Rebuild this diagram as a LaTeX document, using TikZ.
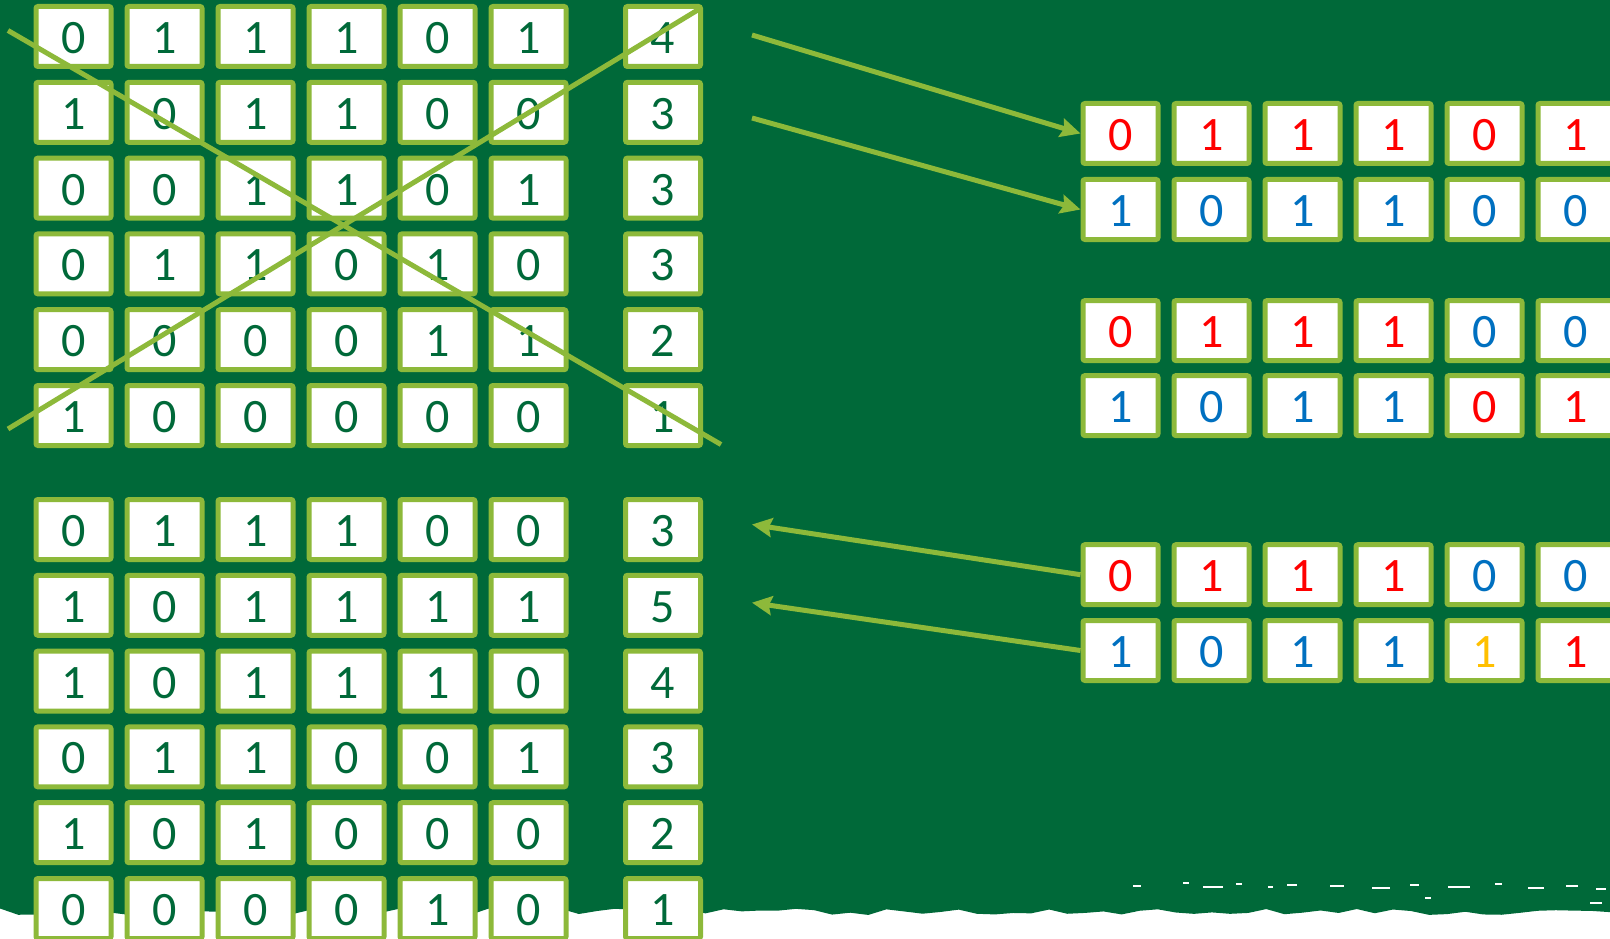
\documentclass[tikz,border=0pt]{standalone}
\usepackage{fontspec}
\setmainfont{Carlito}
\usetikzlibrary{arrows.meta}

\definecolor{board}{RGB}{0,105,57}
\definecolor{lime}{RGB}{141,185,58}
\definecolor{bitred}{RGB}{255,0,0}
\definecolor{bitblue}{RGB}{0,112,192}
\definecolor{bitgold}{RGB}{255,192,0}

\begin{document}
\begin{tikzpicture}[
		x=1pt, y=-1pt,
		cell/.style={rectangle, draw=lime, line width=5pt, fill=white, rounded corners=2pt, minimum width=75pt, minimum height=60pt, inner sep=0pt, text height=34pt, text depth=0pt, text=board, font=\fontsize{48}{58}\selectfont},
		arrow/.style={draw=lime, line width=5pt, -{Stealth[length=20pt, width=19pt, inset=3pt]}},
		cross/.style={draw=lime, line width=5pt}
		]
		
		% board with torn lower edge
		\useasboundingbox (0,0) rectangle (1610,939);
		\fill[white] (0,0) rectangle (1610,939);
		\pgfmathsetseed{11}
		\fill[board] (0,0) -- (1610,0) -- plot[domain=1610:0, samples=90] (\x, {912+3.5*rand}) -- cycle;
		\foreach \sx/\sy/\sw in {1133/885/8, 1183/882/6, 1203/886/20, 1236/883/6, 1268/886/5, 1287/884/10, 1330/885/14, 1372/887/18, 1410/884/9, 1448/886/22, 1495/883/7, 1528/887/16, 1566/885/12, 1596/888/10, 1425/897/6, 1590/902/12}
			\fill[white] (\sx,\sy) rectangle ++(\sw,2);
		
		% first population
		\foreach \row [count=\r] in {{0,1,1,1,0,1},{1,0,1,1,0,0},{0,0,1,1,0,1},{0,1,1,0,1,0},{0,0,0,0,1,1},{1,0,0,0,0,0}}
			\foreach \v [count=\c] in \row
				\node[cell] (a\r\c) at ({73.5+91*(\c-1)}, {36.5+75.8*(\r-1)}) {\v};
		\foreach \n [count=\r] in {4,3,3,3,2,1}
			\node[cell] (na\r) at (663, {36.5+75.8*(\r-1)}) {\n};
		
		% next population
		\foreach \row [count=\r] in {{0,1,1,1,0,0},{1,0,1,1,1,1},{1,0,1,1,1,0},{0,1,1,0,0,1},{1,0,1,0,0,0},{0,0,0,0,1,0}}
			\foreach \v [count=\c] in \row
				\node[cell] (b\r\c) at ({73.5+91*(\c-1)}, {529.5+75.8*(\r-1)}) {\v};
		\foreach \n [count=\r] in {3,5,4,3,2,1}
			\node[cell] (nb\r) at (663, {529.5+75.8*(\r-1)}) {\n};
		
		% parents, crossover, mutation
		\foreach \v/\col [count=\c] in {0/bitred,1/bitred,1/bitred,1/bitred,0/bitred,1/bitred}
			\node[cell, text=\col] (p1\c) at ({1120.5+91*(\c-1)}, 133.5) {\v};
		\foreach \v/\col [count=\c] in {1/bitblue,0/bitblue,1/bitblue,1/bitblue,0/bitblue,0/bitblue}
			\node[cell, text=\col] (p2\c) at ({1120.5+91*(\c-1)}, 209.5) {\v};
		\foreach \v/\col [count=\c] in {0/bitred,1/bitred,1/bitred,1/bitred,0/bitblue,0/bitblue}
			\node[cell, text=\col] (p3\c) at ({1120.5+91*(\c-1)}, 330.6) {\v};
		\foreach \v/\col [count=\c] in {1/bitblue,0/bitblue,1/bitblue,1/bitblue,0/bitred,1/bitred}
			\node[cell, text=\col] (p4\c) at ({1120.5+91*(\c-1)}, 405.6) {\v};
		\foreach \v/\col [count=\c] in {0/bitred,1/bitred,1/bitred,1/bitred,0/bitblue,0/bitblue}
			\node[cell, text=\col] (p5\c) at ({1120.5+91*(\c-1)}, 574.7) {\v};
		\foreach \v/\col [count=\c] in {1/bitblue,0/bitblue,1/bitblue,1/bitblue,1/bitgold,1/bitred}
			\node[cell, text=\col] (p6\c) at ({1120.5+91*(\c-1)}, 650.5) {\v};
		
		% crossing out the old population
		\coordinate (x1) at (8,30.5);
		\coordinate (x2) at (721,444.5);
		\coordinate (x3) at (8,429);
		\coordinate (x4) at (701,8);
		\draw[cross] (x1) -- (x2);
		\draw[cross] (x3) -- (x4);
		
		\coordinate (s1) at (752,35);
		\coordinate (s2) at (752,118);
		\coordinate (e5) at (752,524.5);
		\coordinate (e6) at (752,602.7);
		\draw[arrow] (s1) -- (p11.west);
		\draw[arrow] (s2) -- (p21.west);
		\draw[arrow] (p51.west) -- (e5);
		\draw[arrow] (p61.west) -- (e6);
	\end{tikzpicture}
\end{document}
